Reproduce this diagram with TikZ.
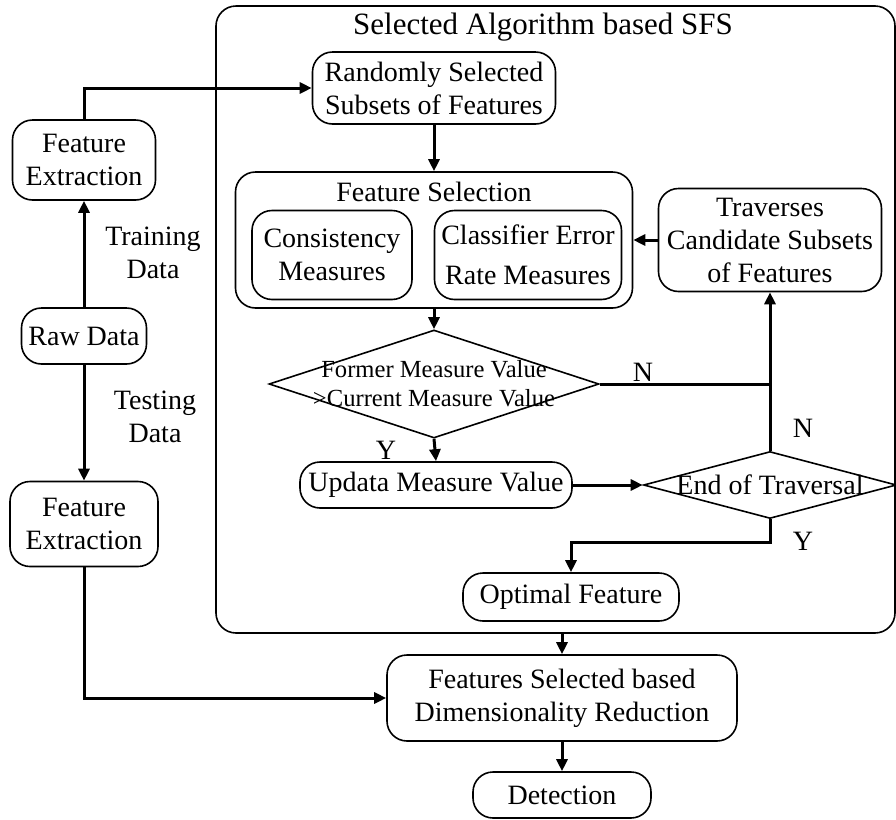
\documentclass[tikz,border=0pt]{standalone}
\usepackage{fontspec}
\setmainfont{Liberation Serif}
\usetikzlibrary{shapes.geometric, positioning, arrows.meta}

\tikzset{
  blk/.style={draw, line width=0.8pt, rounded corners=10pt, align=center, inner sep=0pt},
  dec/.style={draw, diamond, line width=0.8pt, inner sep=0pt},
  arr/.style={line width=1.5pt, -{Triangle[length=6pt,width=5.5pt]}},
  lnk/.style={line width=1.5pt},
}

\begin{document}
\begin{tikzpicture}[x=0.5pt, y=-0.5pt]
\useasboundingbox (0,0) rectangle (896,820);

\fontsize{14}{16.5}\selectfont

%%% OUTER BOX
\node[blk, minimum width=339.5pt, minimum height=313.5pt] (sfs) at (555.5,319.5) {};
\node[font=\fontsize{15.5}{18}\selectfont] (sfst) at (543,27) {Selected Algorithm based SFS};

%%% LEFT COLUMN
\node[blk, minimum width=71.5pt, minimum height=40pt] (fe1) at (84,160) {Feature\\Extraction};
\node[blk, minimum width=62.5pt, minimum height=28pt] (raw) at (84,336) {Raw Data};
\node[blk, minimum width=74pt, minimum height=42.5pt] (fe2) at (84,524) {Feature\\Extraction};

\node[align=center] (train) at (153,253) {Training\\Data};
\node[align=center] (test) at (155,417) {Testing\\Data};

%%% SFS
\node[blk, minimum width=121.5pt, minimum height=36pt] (rand) at (434,88) {Randomly Selected\\Subsets of Features};

\node[blk, minimum width=198.5pt, minimum height=68pt] (fsel) at (434,240) {};
\node (fselt) at (434,192) {Feature Selection};
\node[blk, minimum width=80pt, minimum height=44.5pt] (cons) at (332,255) {Consistency\\Measures};
\node[blk, minimum width=93.5pt, minimum height=44.5pt] (clsf) at (528,255) {Classifier Error\\[3.5pt]Rate Measures};

\node[blk, minimum width=111.5pt, minimum height=51.5pt] (trav) at (770,240) {Traverses\\Candidate Subsets\\of Features};

\node[dec, minimum width=165pt, minimum height=54pt] (cmp) at (434,384) {};
\node[align=center, font=\fontsize{12.3}{14.5}\selectfont] (cmpt) at (cmp) {Former Measure Value\\>Current Measure Value};

\node[blk, minimum width=136pt, minimum height=23pt] (upd) at (436,485) {Updata Measure Value};

\node[dec, minimum width=126.5pt, minimum height=33.5pt] (endt) at (770,485) {};
\node (endtt) at (endt) {End of Traversal};

\node[blk, minimum width=108pt, minimum height=24pt] (opt) at (571,597) {Optimal Feature};

%%% BOTTOM
\node[blk, minimum width=175pt, minimum height=43pt] (fsdr) at (562,698) {Features Selected based\\Dimensionality Reduction};
\node[blk, minimum width=89pt, minimum height=23pt] (det) at (562,795) {Detection};

%%% Y / N
\node (n1) at (643,372) {N};
\node (n2) at (803,428) {N};
\node (y1) at (386,450) {Y};
\node (y2) at (803,541) {Y};

%%% CONNECTORS
\draw[arr] (fe1.north) |- (rand.west);
\draw[arr] (raw.north) -- (fe1.south);
\draw[arr] (raw.south) -- (fe2.north);
\draw[arr] (fe2.south) |- (fsdr.west);
\draw[arr] (rand.south) -- (fsel.north);
\draw[arr] (trav.west) -- (fsel.east);
\draw[arr] (fsel.south) -- (cmp.north);
\coordinate (jn) at (trav.south |- cmp.east);
\draw[lnk] (cmp.east) -- (jn);
\draw[arr] (endt.north) -- (trav.south);
\draw[arr] (cmp.south) -- (upd.north);
\draw[arr] (upd.east) -- (endt.west);
\draw[arr] (endt.south) -- ++(0,23) -| (opt.north);
\draw[arr] (sfs.south -| fsdr.north) -- (fsdr.north);
\draw[arr] (fsdr.south) -- (det.north);

\end{tikzpicture}
\end{document}
